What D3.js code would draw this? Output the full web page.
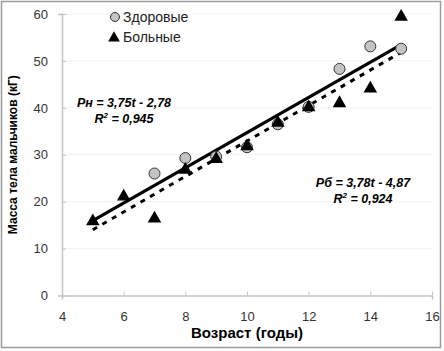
<!DOCTYPE html>
<html>
<head>
<meta charset="utf-8">
<script src="https://cdn.jsdelivr.net/npm/d3@7"></script>
<style>
  body { margin: 0; background: #fff; }
  text { font-family: Arial, "Liberation Sans", sans-serif; }
</style>
</head>
<body>
<div id="chart"></div>
<script>
// healthy boys
var healthyAge = [7, 8, 9, 10, 11, 12, 13, 14, 15];
var healthyMass = [26, 29.3, 29.6, 31.6, 36.5, 40.2, 48.3, 53.1, 52.6];
// sick boys
var sickAge = [5, 6, 7, 8, 9, 10, 11, 12, 13, 14, 15];
var sickMass = [16, 21.3, 16.6, 27, 29.3, 32, 37, 40.3, 41.2, 44.3, 59.6];
// trend lines  y = a*t + b
var trendH = { a: 3.75, b: -2.78, from: 5, to: 15 };
var trendS = { a: 3.78, b: -4.87, from: 5, to: 15 };
var xTicks = [4, 6, 8, 10, 12, 14, 16];
var yTicks = [0, 10, 20, 30, 40, 50, 60];

var W = 444, H = 351;
var svg = d3.select("#chart").append("svg")
    .attr("width", W).attr("height", H);

// outer frame
svg.append("rect")
    .attr("x", 1.5).attr("y", 1.5)
    .attr("width", 439).attr("height", 346)
    .attr("fill", "#fff").attr("stroke", "#9a9a9a").attr("stroke-width", 1.5);

var x = d3.scaleLinear().domain([4, 16]).range([62, 432]);
var y = d3.scaleLinear().domain([0, 60]).range([295.5, 14]);

// light grid
svg.append("g").selectAll("line")
    .data(yTicks.slice(1))
    .enter().append("line")
    .attr("x1", x(4)).attr("x2", x(16))
    .attr("y1", function (d) { return y(d); })
    .attr("y2", function (d) { return y(d); })
    .attr("stroke", "#f2f2f2");

// axes
var xAxis = svg.append("g")
    .attr("transform", "translate(0," + y(0) + ")")
    .call(d3.axisBottom(x).tickValues(xTicks).tickSize(4).tickPadding(12));
var yAxis = svg.append("g")
    .attr("transform", "translate(" + x(4) + ",0)")
    .call(d3.axisLeft(y).tickValues(yTicks).tickSize(4).tickPadding(10));

[xAxis, yAxis].forEach(function (ax) {
    ax.select(".domain").attr("stroke", "#c4c4c4").attr("stroke-width", 1.5);
    ax.selectAll(".tick line").attr("stroke", "#c4c4c4");
    ax.selectAll(".tick text")
        .attr("fill", "#333")
        .style("font-size", "13px")
        .style("font-family", "Arial, 'Liberation Sans', sans-serif");
});
xAxis.selectAll(".tick line").attr("y2", -4);
yAxis.selectAll(".tick line").attr("x2", 4);

// trend lines
function trendPts(t) {
    return [[t.from, t.a * t.from + t.b], [t.to, t.a * t.to + t.b]];
}
var line = d3.line()
    .x(function (d) { return x(d[0]); })
    .y(function (d) { return y(d[1]); });

svg.append("path")
    .attr("d", line(trendPts(trendS)))
    .attr("stroke", "#000").attr("stroke-width", 3)
    .attr("stroke-dasharray", "5,6")
    .attr("fill", "none");

svg.append("path")
    .attr("d", line(trendPts(trendH)))
    .attr("stroke", "#000").attr("stroke-width", 3.2)
    .attr("fill", "none");

// points
var tri = d3.symbol().type(d3.symbolTriangle).size(80);

svg.append("g").selectAll("circle")
    .data(healthyAge)
    .enter().append("circle")
    .attr("cx", function (d) { return x(d); })
    .attr("cy", function (d, i) { return y(healthyMass[i]); })
    .attr("r", 5.5)
    .attr("fill", "#c4c4c4")
    .attr("stroke", "#333")
    .attr("stroke-width", 1);

svg.append("g").selectAll("path")
    .data(sickAge)
    .enter().append("path")
    .attr("d", tri)
    .attr("transform", function (d, i) {
        return "translate(" + x(d) + "," + (y(sickMass[i]) + 1) + ")";
    })
    .attr("fill", "#000");

// legend
svg.append("circle")
    .attr("cx", 115).attr("cy", 17).attr("r", 4.5)
    .attr("fill", "#c4c4c4").attr("stroke", "#333");
svg.append("text").attr("x", 123).attr("y", 22)
    .text("Здоровые").style("font-size", "14px").attr("fill", "#222");
svg.append("path")
    .attr("d", d3.symbol().type(d3.symbolTriangle).size(60))
    .attr("transform", "translate(114,38)")
    .attr("fill", "#000");
svg.append("text").attr("x", 123).attr("y", 42)
    .text("Больные").style("font-size", "14px").attr("fill", "#222");

// equations
function equation(cx, y1, y2, label, r2) {
    var t1 = svg.append("text")
        .attr("x", cx).attr("y", y1)
        .attr("text-anchor", "middle")
        .style("font-size", "12.5px").style("font-weight", "bold").style("font-style", "italic");
    t1.text(label);
    var t2 = svg.append("text")
        .attr("x", cx).attr("y", y2)
        .attr("text-anchor", "middle")
        .style("font-size", "12.5px").style("font-weight", "bold").style("font-style", "italic");
    t2.append("tspan").text("R");
    t2.append("tspan").attr("dy", -5).style("font-size", "8px").text("2");
    t2.append("tspan").attr("dy", 5).text(" = " + r2);
}
equation(124, 107, 123, "Pн = 3,75t - 2,78", "0,945");
equation(363, 187, 203, "Pб = 3,78t - 4,87", "0,924");

// axis titles
svg.append("text")
    .attr("x", x(10)).attr("y", 338)
    .attr("text-anchor", "middle")
    .style("font-size", "15px").style("font-weight", "bold")
    .text("Возраст (годы)");
svg.append("text")
    .attr("transform", "translate(17," + y(30) + ") rotate(-90)")
    .attr("text-anchor", "middle")
    .style("font-size", "12px").style("font-weight", "bold")
    .text("Масса тела мальчиков (кГ)");
</script>
</body>
</html>
